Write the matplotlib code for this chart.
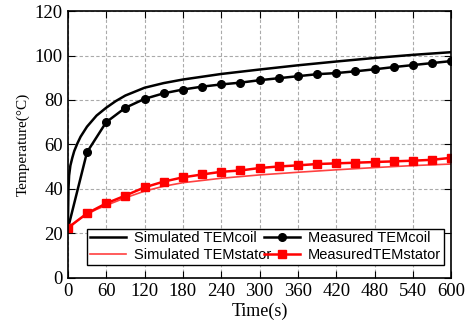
import matplotlib
matplotlib.use('Agg')
import matplotlib.pyplot as plt

# simulated coil temperature (dense curve)
sim_coil_t = [0, 1, 2, 4, 7, 10, 15, 20, 30, 45, 60, 75, 90, 120, 150, 180, 240, 300, 360, 420, 480, 540, 600]
sim_coil_T = [22, 40, 46, 50.5, 54, 57, 60.5, 63.5, 68, 73, 76.5, 79.5, 82, 85.5, 87.6, 89.2, 91.7, 93.7, 95.6, 97.3, 98.9, 100.3, 101.5]

# simulated stator temperature
sim_stator_t = [0, 15, 30, 45, 60, 90, 120, 150, 180, 240, 300, 360, 420, 480, 540, 600]
sim_stator_T = [22, 25.8, 28.6, 30.8, 32.6, 36, 39, 41.2, 42.8, 44.8, 46.3, 47.5, 48.6, 49.6, 50.5, 51.2]

# measured points every 30 s
meas_t = [0, 30, 60, 90, 120, 150, 180, 210, 240, 270, 300, 330, 360, 390, 420, 450, 480, 510, 540, 570, 600]
meas_coil = [22, 56.5, 70, 76.5, 80.5, 83, 84.7, 86, 87, 87.8, 88.9, 89.8, 90.7, 91.6, 92.1, 92.9, 93.8, 94.8, 95.7, 96.6, 97.5]
meas_stator = [22.5, 29, 33.5, 37, 40.7, 43.3, 45.2, 46.5, 47.7, 48.3, 49.4, 50.1, 50.6, 51.2, 51.5, 51.8, 52.1, 52.4, 52.7, 53.1, 54]

fig = plt.figure(figsize=(4.71, 3.25), dpi=100)
ax = fig.add_axes([0.144, 0.145, 0.814, 0.821])

ax.plot(sim_coil_t, sim_coil_T, color='black', lw=1.8, label='Simulated TEMcoil')
ax.plot(sim_stator_t, sim_stator_T, color='#ff4040', lw=1.2, label='Simulated TEMstator')
ax.plot(meas_t, meas_coil, color='black', lw=1.8, marker='o', ms=5.5, label='Measured TEMcoil')
ax.plot(meas_t, meas_stator, color='red', lw=1.8, marker='s', ms=5.5, label='MeasuredTEMstator')

ax.set_xlim(0, 600)
ax.set_ylim(0, 120)
ax.set_xticks(range(0, 601, 60))
ax.set_yticks(range(0, 121, 20))
ax.grid(True, color='#aaaaaa', ls=(0, (3, 2)), lw=0.8)
ax.tick_params(direction='in', top=True, right=True, length=5, labelsize=13.5)
for lbl in ax.get_xticklabels() + ax.get_yticklabels():
    lbl.set_family('Liberation Serif')
for s in ax.spines.values():
    s.set_linewidth(1.2)

ax.set_xlabel('Time(s)', family='Liberation Serif', fontsize=13, labelpad=2)
ax.set_ylabel('Temperature(°C)', family='Liberation Serif', fontsize=11, labelpad=4)

handles, labels = ax.get_legend_handles_labels()
leg = ax.legend(handles, labels, ncol=2, loc='lower left', bbox_to_anchor=(0.05, 0.05, 0.93, 0.13),
                mode='expand', prop={'family': 'Liberation Sans', 'size': 10.5},
                fancybox=False, edgecolor='black', framealpha=1, borderpad=0.2,
                labelspacing=0.15, handlelength=2.5, handletextpad=0.5, columnspacing=0.6,
                borderaxespad=0)
leg.get_frame().set_linewidth(1.0)

fig.savefig('out.png', dpi=100)
